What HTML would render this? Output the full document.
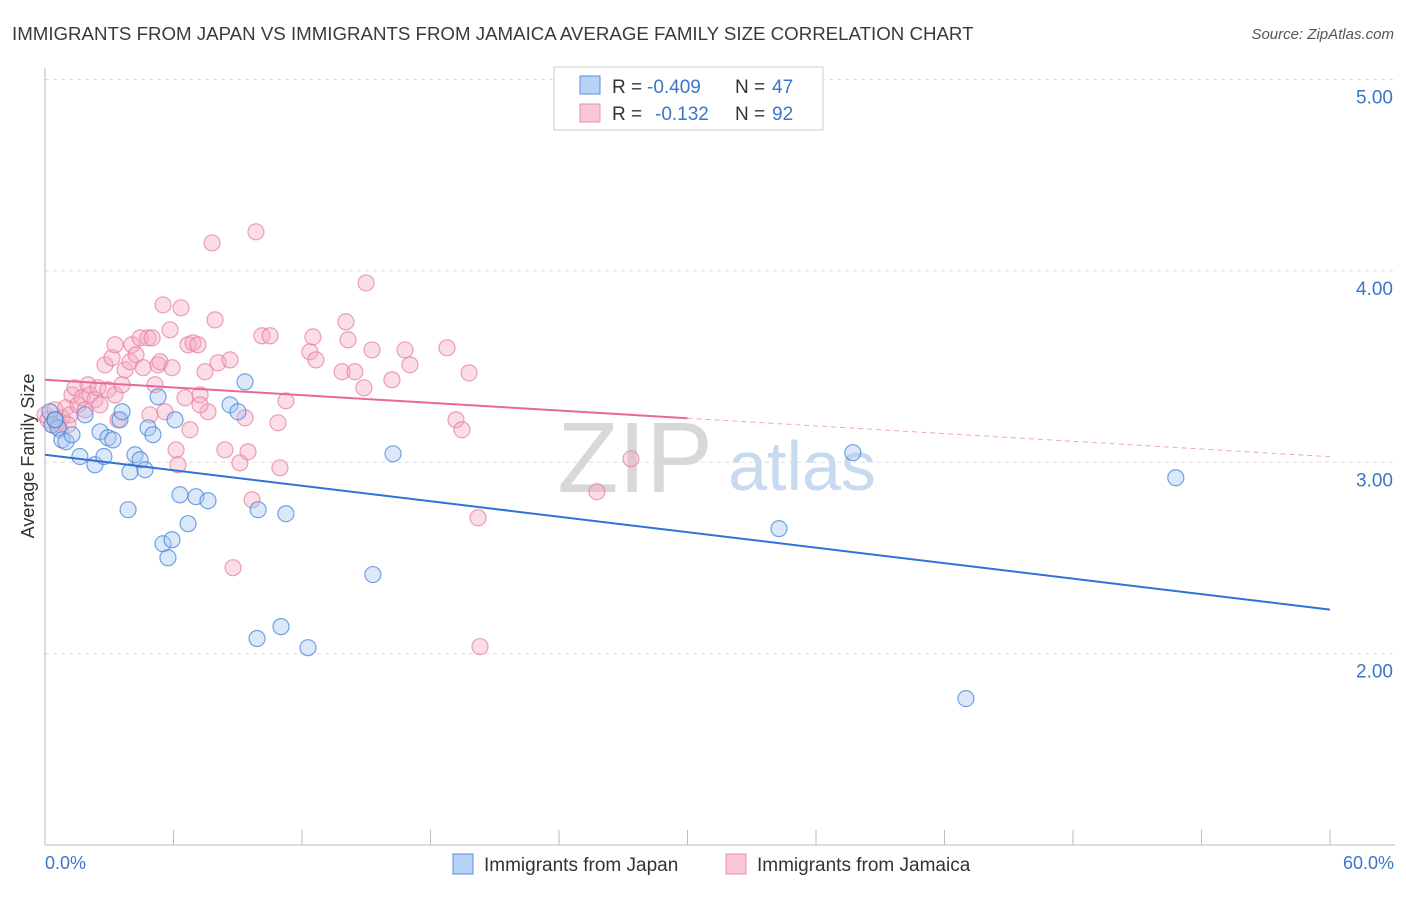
<!DOCTYPE html>
<html><head><meta charset="utf-8"><style>
body{margin:0;background:#fff;font-family:"Liberation Sans",sans-serif}
svg text{font-family:"Liberation Sans",sans-serif}
</style></head><body>
<svg id="chart" width="1406" height="892" viewBox="0 0 1406 892">
<text x="12" y="40" font-size="18.7" fill="#3a3a3a">IMMIGRANTS FROM JAPAN VS IMMIGRANTS FROM JAMAICA AVERAGE FAMILY SIZE CORRELATION CHART</text>
<text x="1394" y="39" font-size="15" fill="#555" font-style="italic" text-anchor="end">Source: ZipAtlas.com</text>
<g id="grid"></g>
<g id="axes"></g>
<g>
<text x="635" y="492" font-size="100" fill="#d8d8d8" font-family="Liberation Serif" text-anchor="middle">ZIP</text>
<text x="802" y="490" font-size="70" fill="#c8daf0" text-anchor="middle">atlas</text>
</g>
<g id="pts"></g>
<g id="lines"></g>
<text transform="translate(34,456) rotate(-90)" font-size="18" fill="#333" text-anchor="middle">Average Family Size</text>
<text x="45" y="869" font-size="18" fill="#3a76c8">0.0%</text>
<text x="1394" y="869" font-size="18" fill="#3a76c8" text-anchor="end">60.0%</text>
<g>
<rect x="554" y="67" width="269" height="63" fill="#fff" stroke="#ccc"/>
<rect x="580" y="76" width="20" height="18" fill="#b8d3f5" stroke="#5b8fd8"/>
<rect x="580" y="104" width="20" height="18" fill="#f9c6d4" stroke="#e890aa"/>
<text x="612" y="93" font-size="19" fill="#333">R =</text>
<text x="647" y="93" font-size="19" fill="#3a76c8">-0.409</text>
<text x="735" y="93" font-size="19" fill="#333">N =</text>
<text x="772" y="93" font-size="19" fill="#3a76c8">47</text>
<text x="612" y="120" font-size="19" fill="#333">R =</text>
<text x="655" y="120" font-size="19" fill="#3a76c8">-0.132</text>
<text x="735" y="120" font-size="19" fill="#333">N =</text>
<text x="772" y="120" font-size="19" fill="#3a76c8">92</text>
</g>
<g>
<rect x="453" y="854" width="20" height="20" fill="#b8d3f5" stroke="#5b8fd8"/>
<text x="484" y="871" font-size="19" fill="#333">Immigrants from Japan</text>
<rect x="726" y="854" width="20" height="20" fill="#f9c6d4" stroke="#e890aa"/>
<text x="757" y="871" font-size="19" fill="#333">Immigrants from Jamaica</text>
</g>
</svg>
<script>
const japanX=[0.23,0.33,0.47,0.61,0.79,0.98,1.26,1.63,1.87,2.33,2.57,2.75,2.94,3.17,3.50,3.60,3.88,3.97,4.20,4.44,4.67,4.81,5.04,5.28,5.51,5.74,5.93,6.07,6.30,6.68,7.05,7.61,8.64,9.01,9.34,9.95,9.90,11.02,11.25,12.28,15.31,16.25,34.27,37.72,43.0,52.8,0.47];
const japanY=[3.264,3.196,3.222,3.180,3.117,3.107,3.144,3.030,3.248,2.987,3.159,3.030,3.128,3.117,3.222,3.264,2.752,2.950,3.039,3.013,2.961,3.180,3.144,3.342,2.574,2.501,2.595,3.222,2.830,2.679,2.820,2.799,3.300,3.264,3.420,2.752,2.079,2.141,2.731,2.031,2.413,3.044,2.653,3.050,1.765,2.919,3.222];
const jamaicaX=[0,0.14,0.33,0.47,0.61,0.79,0.98,1.17,1.26,1.40,1.54,1.73,1.87,2.01,2.10,2.33,2.47,2.57,2.80,2.94,3.13,3.27,3.41,3.60,3.74,3.97,4.06,4.25,4.44,4.58,4.81,5.00,5.14,5.28,5.37,5.51,5.60,5.84,5.93,6.12,6.21,6.35,6.54,6.68,6.77,6.91,7.14,7.24,7.47,7.61,7.80,7.94,8.08,8.40,8.64,8.78,9.10,9.34,9.48,9.67,9.85,10.13,10.51,10.88,10.97,11.25,12.37,12.51,12.65,13.87,14.05,14.15,14.47,14.89,14.99,15.27,16.20,16.81,17.04,18.77,19.19,19.47,19.80,20.22,20.31,25.77,27.36,0.70,1.07,3.27,4.90,7.24];
const jamaicaY=[3.248,3.222,3.196,3.274,3.206,3.232,3.285,3.248,3.352,3.389,3.300,3.337,3.274,3.405,3.352,3.326,3.389,3.300,3.509,3.379,3.546,3.352,3.222,3.405,3.483,3.525,3.614,3.561,3.650,3.494,3.650,3.650,3.405,3.509,3.525,3.822,3.264,3.692,3.494,3.065,2.987,3.807,3.337,3.614,3.170,3.624,3.614,3.352,3.473,3.264,4.146,3.744,3.520,3.065,3.535,2.449,2.997,3.232,3.055,2.804,4.204,3.661,3.661,3.206,2.971,3.321,3.577,3.655,3.535,3.473,3.734,3.640,3.473,3.389,3.937,3.587,3.431,3.587,3.509,3.598,3.222,3.170,3.467,2.710,2.037,2.846,3.018,3.170,3.196,3.614,3.248,3.30];
const yTicks=[2,3,4,5];
const yTickLabels=["2.00","3.00","4.00","5.00"];
const xTicks=[0,6,12,18,24,30,36,42,48,54,60];
const japanTrend=[3.039,2.230];
const jamaicaTrend=[3.431,3.029];
const jamaicaSolidEnd=30;

const NS="http://www.w3.org/2000/svg";
const X0=45,X1=1330,Y0=845,Y1=79.5;
const xs=v=>X0+(v/60)*(X1-X0);
const ys=v=>Y0-(v-1)/4*(Y0-Y1);
function mk(tag,attrs,parent){const e=document.createElementNS(NS,tag);for(const k in attrs)e.setAttribute(k,attrs[k]);parent.appendChild(e);return e;}
const grid=document.getElementById('grid'),axes=document.getElementById('axes'),pts=document.getElementById('pts'),lines=document.getElementById('lines');
yTicks.forEach((t,i)=>{
 const l=mk('line',{x1:X0,x2:1395,y1:ys(t),y2:ys(t),stroke:'#ddd','stroke-dasharray':'4,4'},grid);
 
 
 const tx=mk('text',{x:1393,y:ys(t)+24,'font-size':19,fill:'#3a76c8','text-anchor':'end'},grid);
 tx.textContent=yTickLabels[i];
 
 
});
let a=mk('line',{x1:X0,x2:X0,y1:68,y2:Y0,stroke:'#bbb'},axes);


a=mk('line',{x1:X0,x2:1395,y1:Y0,y2:Y0,stroke:'#bbb'},axes);


xTicks.forEach(t=>{
 const l=mk('line',{x1:xs(t),x2:xs(t),y1:Y0,y2:Y0-15,stroke:'#bbb'},axes);
 
 
});
function dots(X,Y,fill,stroke,name){
 X.forEach((v,i)=>{
  const c=mk('circle',{cx:xs(v),cy:ys(Y[i]),r:8,fill:fill,'fill-opacity':0.4,stroke:stroke,'stroke-opacity':0.75,'stroke-width':1.2},pts);
  
  
 });
}
dots(jamaicaX,jamaicaY,'#f4a9c0','#e8809f','point-jamaica');
dots(japanX,japanY,'#a6c6f0','#4a86d8','point-japan');
const tj=t=>japanTrend[0]+(japanTrend[1]-japanTrend[0])*t/60;
const tm=t=>jamaicaTrend[0]+(jamaicaTrend[1]-jamaicaTrend[0])*t/60;
let ln=mk('line',{x1:xs(0),y1:ys(tj(0)),x2:xs(60),y2:ys(tj(60)),stroke:'#2f72d6','stroke-width':2},lines);


ln=mk('line',{x1:xs(0),y1:ys(tm(0)),x2:xs(jamaicaSolidEnd),y2:ys(tm(jamaicaSolidEnd)),stroke:'#e86a93','stroke-width':2},lines);


ln=mk('line',{x1:xs(jamaicaSolidEnd),y1:ys(tm(jamaicaSolidEnd)),x2:xs(60),y2:ys(tm(60)),stroke:'#e86a93','stroke-width':1,'stroke-dasharray':'5,4','stroke-opacity':0.6},lines);


</script>
</body></html>
